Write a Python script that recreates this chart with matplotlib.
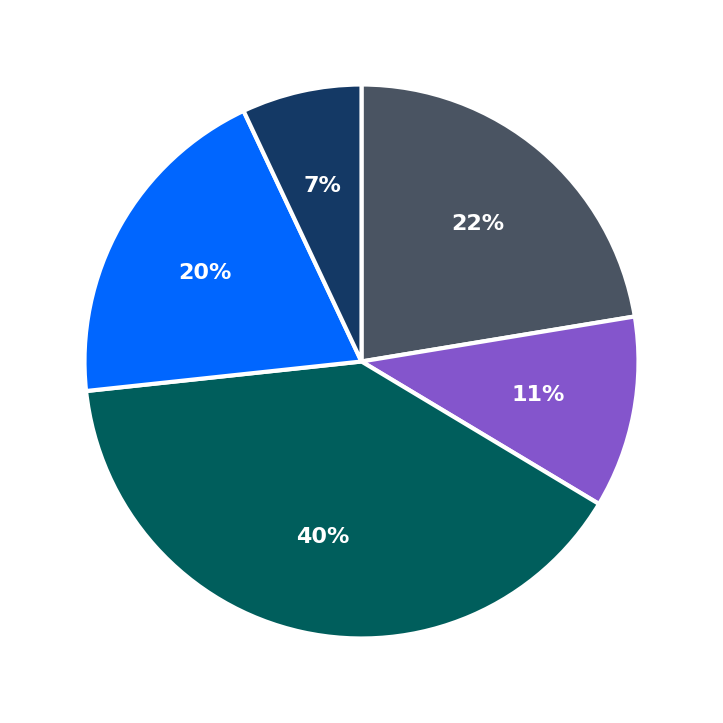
import matplotlib
matplotlib.use("Agg")
import matplotlib.pyplot as plt

# slice values (percent), clockwise from the top
labels = ["A", "B", "C", "D", "E"]
values = [22.4, 11.2, 39.7, 19.7, 7.0]
colors = ["#4a5462", "#8455cc", "#005e5c", "#0066ff", "#143965"]

fig = plt.figure(figsize=(7.23, 7.23), dpi=100)
r = 277 / 723
ax = fig.add_axes([0.5 - r, 0.5 - r, 2 * r, 2 * r])

wedges, texts, autotexts = ax.pie(
    values,
    colors=colors,
    startangle=90,
    counterclock=False,
    autopct=lambda p: f"{p:.0f}%",
    pctdistance=0.65,
    radius=1,
    wedgeprops=dict(edgecolor="white", linewidth=3),
    textprops=dict(color="white", fontsize=16, fontweight="bold"),
)
ax.set_xlim(-1, 1)
ax.set_ylim(-1, 1)
ax.set_aspect("equal")
ax.axis("off")

fig.savefig("out.png", dpi=100, facecolor="white")
